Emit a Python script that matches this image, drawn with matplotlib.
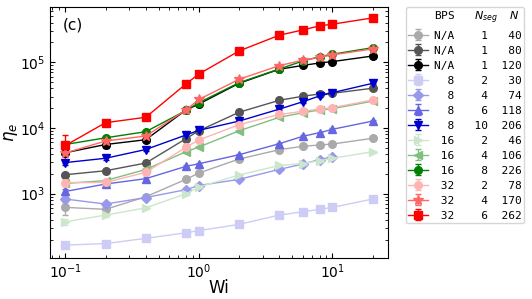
import numpy as np
import matplotlib
matplotlib.use("Agg")
import matplotlib.pyplot as plt
from matplotlib.lines import Line2D

nan = np.nan

# Weissenberg numbers (x axis)
wi = [0.1, 0.2, 0.4, 0.8, 1, 2, 4, 6, 8, 10, 20]

# legend columns
bps = ["N/A", "N/A", "N/A", "8", "8", "8", "8", "16", "16", "16", "32", "32", "32"]
nseg = [1, 1, 1, 2, 4, 6, 10, 2, 4, 8, 2, 4, 6]
nbeads = [40, 80, 120, 30, 74, 118, 206, 46, 106, 226, 78, 170, 262]

# eta_e values
eta_na40 = [618, 577, 897, 1650, 2060, 3360, 4660, 5250, 5490, 5690, 6950]
eta_na80 = [1940, 2230, 2920, 6850, 9060, 17300, 26300, 30300, 32800, 33600, 40100]
eta_na120 = [4190, 5590, 6610, 18700, 23100, 47700, 78000, 89100, 97200, 102000, 124000]
eta_8_2 = [165, 174, 209, 254, 274, 341, 472, 530, 577, 618, 828]
eta_8_4 = [828, 695, 872, 1150, 1330, 1650, 2340, 2820, 3300, 3640, nan]
eta_8_6 = [1080, 1400, 1690, 2600, 2850, 3910, 5750, 7450, 8450, 9520, 12700]
eta_8_10 = [2970, 3450, 4690, 7800, 9190, 12700, 19300, 25000, 30600, 34300, 47700]
eta_16_2 = [373, 472, 608, 996, 1260, 1920, 2680, 2870, 3170, 3450, 4340]
eta_16_4 = [1430, 1580, 2330, 4340, 5120, 9030, 14500, 17000, 18700, 19600, 25500]
eta_16_8 = [5590, 7070, 8750, 18400, 24200, 48700, 78800, 104000, 121000, 132000, 166000]
eta_32_2 = [1470, 1480, 2110, 5070, 6550, 11200, 16000, 17900, 19400, 20300, 26600]
eta_32_4 = [4150, 6320, 7530, 18700, 27100, 54900, 88500, 107000, 118000, 129000, 159000]
eta_32_6 = [5400, 12000, 14500, 46600, 66100, 148000, 257000, 309000, 356000, 378000, 471000]

# error bars
err_na40 = [150, 90, 60, 80, 90, 120, 150, 150, 150, 160, 200]
err_na80 = [150, 150, 200, 300, 300, 500, 700, 800, 800, 900, 1000]
err_na120 = [400, 600, 500, 800, 900, 1500, 2000, 2500, 2500, 3000, 3500]
err_8_2 = [8, 8, 8, 10, 10, 12, 15, 15, 18, 20, 25]
err_8_4 = [90, 60, 50, 50, 50, 60, 80, 90, 100, 100, nan]
err_8_6 = [80, 80, 80, 100, 100, 150, 200, 250, 300, 300, 400]
err_8_10 = [250, 250, 250, 300, 350, 500, 700, 900, 1000, 1200, 1500]
err_16_2 = [40, 30, 30, 40, 40, 60, 80, 90, 100, 100, 150]
err_16_4 = [100, 100, 100, 150, 150, 300, 400, 500, 500, 600, 800]
err_16_8 = [500, 400, 400, 600, 800, 1500, 2500, 3000, 3500, 4000, 5000]
err_32_2 = [100, 100, 100, 150, 200, 300, 500, 500, 600, 600, 800]
err_32_4 = [400, 400, 400, 600, 800, 1500, 2500, 3000, 3500, 4000, 5000]
err_32_6 = [2500, 800, 800, 1500, 2000, 4000, 7000, 9000, 10000, 11000, 14000]

etas = [eta_na40, eta_na80, eta_na120, eta_8_2, eta_8_4, eta_8_6, eta_8_10,
        eta_16_2, eta_16_4, eta_16_8, eta_32_2, eta_32_4, eta_32_6]
errs = [err_na40, err_na80, err_na120, err_8_2, err_8_4, err_8_6, err_8_10,
        err_16_2, err_16_4, err_16_8, err_32_2, err_32_4, err_32_6]

colors = ["#aaaaaa", "#555555", "black",
          "#ccccf5", "#9999eb", "#6666e1", "#0000cd",
          "#cce6cc", "#80bf80", "#008000",
          "#ffb3b3", "#ff6666", "red"]
markers = ["o", "o", "o", "s", "D", "^", "v", ">", "<", "o", "o", "*", "s"]
msizes = [5.5, 5.5, 5.5, 5.5, 5, 5.5, 5.5, 5.5, 5.5, 5.5, 5.5, 7, 5.5]

fig = plt.figure(figsize=(5.32, 2.99), dpi=100)
ax = fig.add_axes([50 / 532, 41 / 299, 338 / 532, 251 / 299])

handles = [Line2D([], [], color="none")]
labels = ["BPS   $N_{seg}$  $N$"]
for i in range(len(etas)):
    h = ax.errorbar(wi, etas[i], yerr=errs[i], color=colors[i], marker=markers[i],
                    ms=msizes[i], lw=1, capsize=2.5, elinewidth=1)
    handles.append(h)
    labels.append(f"{bps[i]:>3}{nseg[i]:>5}{nbeads[i]:>5}")

ax.set_xscale("log")
ax.set_yscale("log")
ax.set_xlim(10 ** -1.115, 10 ** 1.416)
ax.set_ylim(105, 690000)
ax.tick_params(axis="both", which="both", direction="in", top=True, right=True, labelsize=10)
ax.set_xlabel("Wi", fontsize=12, labelpad=-2)
ax.set_ylabel(r"$\eta_e$", fontsize=12)
ax.yaxis.set_label_coords(-0.088, 0.5)
ax.text(0.038, 0.93, "(c)", transform=ax.transAxes, fontsize=11, va="center")

ax.legend(handles, labels, loc="upper left", bbox_to_anchor=(1.052, 1.0),
          borderaxespad=0, prop={"family": "monospace", "size": 8},
          labelspacing=0.45, borderpad=0.2, handlelength=1.8, handletextpad=0.6)

fig.savefig("out.png", dpi=100)
